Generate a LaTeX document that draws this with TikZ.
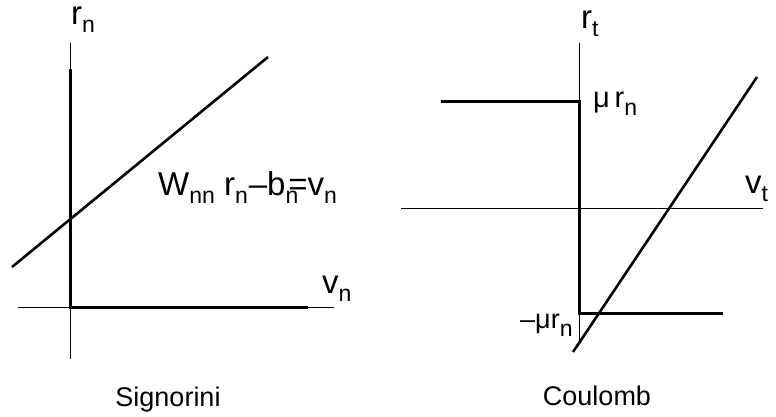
\documentclass[tikz,border=0pt]{standalone}
\usepackage{fontspec}
\setmainfont{Liberation Sans}
\usetikzlibrary{positioning}
\newcommand{\lsub}[1]{\raisebox{-8pt}{\fontsize{23}{23}\selectfont #1}}

\begin{document}
\begin{tikzpicture}[x=1pt, y=-1pt,
    axis/.style={line width=1pt},
    graph/.style={line width=3pt},
    lab/.style={font=\fontsize{33}{33}\selectfont, inner sep=0pt, anchor=base west},
    smalllab/.style={font=\fontsize{29}{29}\selectfont, inner sep=0pt, anchor=base west},
    caption/.style={font=\fontsize{27}{27}\selectfont, inner sep=0pt, anchor=base}
]
\useasboundingbox (0,0) rectangle (776,417);
% Signorini
\draw[axis] (70,43) -- (70,359);
\draw[axis] (18,307) -- (334,307);
\draw[graph] (70,69) -- (70,307) -- (308,307);
\draw[line width=2.6pt] (12,267) -- (268,57);
\node[lab] (rn) at (71,25) {r\lsub{n}};
\node[lab] (vn) at (322,293) {v\lsub{n}};
\node[lab] (eqn) at (158,195) {W\lsub{nn} r\lsub{n}\kern1pt--b\lsub{n}\kern-10pt=v\lsub{n}};
\node[caption] (sig) at (168,406) {Signorini};
% Coulomb
\draw[axis] (579,43) -- (579,340);
\draw[axis] (401,208) -- (763,208);
\draw[graph] (441,102) -- (579,102) -- (579,313) -- (723,313);
\draw[line width=2.6pt] (573,352) -- (757,77);
\node[lab] (rt) at (581,29) {r\lsub{t}};
\node[smalllab] (murn) at (593,108) {μ\,r\lsub{n}};
\node[lab] (vt) at (745,193) {v\lsub{t}};
\node[smalllab, font=\fontsize{27}{27}\selectfont] (mmurn) at (520,328) {--μr\lsub{n}};
\node[caption] (cou) at (597,405) {Coulomb};
\end{tikzpicture}
\end{document}
